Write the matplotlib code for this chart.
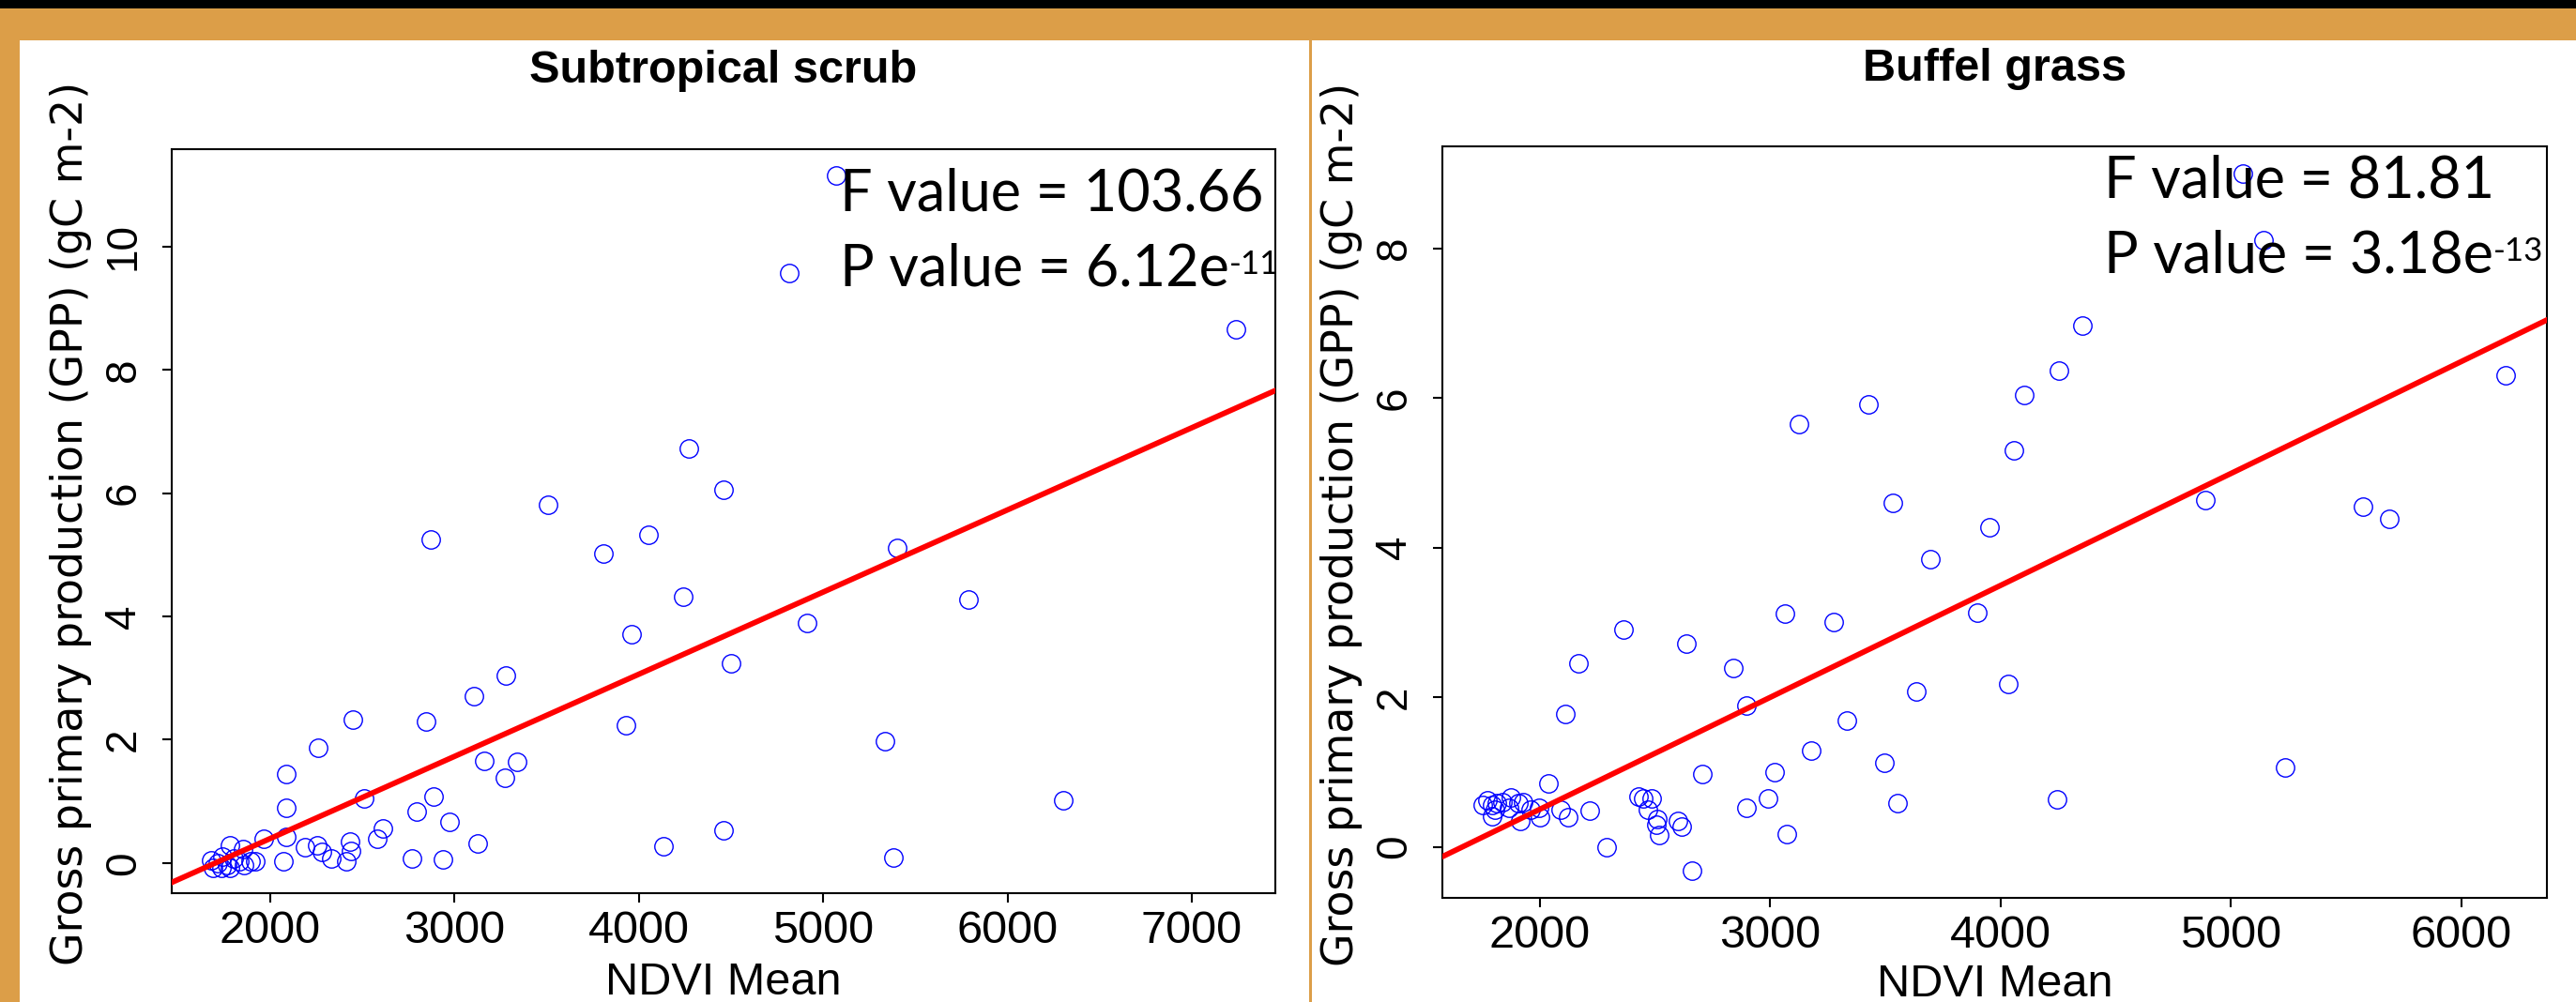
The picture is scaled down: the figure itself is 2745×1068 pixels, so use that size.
import matplotlib
matplotlib.use("Agg")
import matplotlib.pyplot as plt
from matplotlib.patches import Rectangle

# Subtropical scrub: NDVI mean vs GPP
scrub_ndvi = [5070, 4815, 7240, 4270, 4460, 3505, 2872, 3808, 4050, 5400,
              4242, 5790, 4913, 3959, 4498, 3279, 3105, 2450, 2848, 3932,
              5333, 2261, 3160, 3341, 3271, 2087, 2886, 2512, 6301, 2087,
              2794, 2973, 2613, 4457, 2580, 3128, 4132, 1964, 2087, 2073,
              2188, 2253, 2282, 2333, 2432, 2440, 2411, 2770, 2935, 5379,
              1783, 1852, 1894, 1920, 1681, 1715, 1741, 1689, 1766, 1800,
              1831, 1860, 1783, 1735]
scrub_gpp = [11.15, 9.57, 8.66, 6.73, 6.06, 5.81, 5.25, 5.02, 5.32, 5.11,
             4.32, 4.27, 3.90, 3.71, 3.24, 3.04, 2.71, 2.32, 2.29, 2.23,
             1.97, 1.87, 1.65, 1.64, 1.38, 1.45, 1.08, 1.04, 1.02, 0.89,
             0.83, 0.66, 0.56, 0.53, 0.39, 0.32, 0.27, 0.39, 0.43, 0.02,
             0.25, 0.28, 0.18, 0.07, 0.35, 0.20, 0.02, 0.08, 0.06, 0.09,
             0.28, 0.23, 0.03, 0.03, 0.05, 0.00, 0.10, -0.08, -0.03, 0.07,
             0.03, -0.03, -0.08, -0.08]
scrub_fit = (-2.27, 0.001333)   # intercept, slope
scrub_stats = ("103.66", "6.12", "-11")

# Buffel grass
buffel_ndvi = [5050, 5142, 4355, 4255, 4103, 3426, 3124, 4060, 6191, 3532,
               4890, 5571, 5688, 3954, 3695, 3064, 3277, 3901, 2365, 2635,
               2168, 2839, 4035, 3635, 2896, 2111, 3333, 3177, 3496, 5234,
               2705, 3021, 2037, 4244, 2990, 3552, 2896, 3071, 2292, 2660,
               2216, 2125, 2091, 1996, 2000, 2430, 2450, 2485, 2471, 2512,
               2505, 2519, 2600, 2618, 1752, 1772, 1793, 1813, 1840, 1874,
               1908, 1929, 1793, 1915, 1962, 1868, 1806]
buffel_gpp = [9.00, 8.11, 6.97, 6.36, 6.04, 5.91, 5.65, 5.30, 6.30, 4.60,
              4.63, 4.55, 4.39, 4.27, 3.85, 3.12, 3.01, 3.13, 2.91, 2.72,
              2.45, 2.39, 2.18, 2.08, 1.89, 1.78, 1.69, 1.29, 1.12, 1.06,
              0.97, 1.00, 0.85, 0.63, 0.65, 0.58, 0.52, 0.17, 0.00, -0.32,
              0.48, 0.40, 0.50, 0.52, 0.40, 0.67, 0.65, 0.65, 0.50, 0.37,
              0.30, 0.16, 0.35, 0.27, 0.56, 0.62, 0.56, 0.58, 0.60, 0.66,
              0.58, 0.60, 0.41, 0.35, 0.50, 0.52, 0.50]
buffel_fit = (-2.49, 0.001496)
buffel_stats = ("81.81", "3.18", "-13")

W, H = 2745, 1068
ORANGE = "#DC9E48"

def fx(px):
    return px / W

def fy(py):
    return 1 - py / H

fig = plt.figure(figsize=(W / 100, H / 100), dpi=100, facecolor=ORANGE)

# page decoration: black strip on top, white panels
fig.add_artist(Rectangle((0, fy(9)), 1, 9 / H, transform=fig.transFigure,
                         facecolor="black", edgecolor="none", zorder=0))
fig.add_artist(Rectangle((fx(21), 0), fx(1395 - 21), fy(43), transform=fig.transFigure,
                         facecolor="white", edgecolor="none", zorder=0))
fig.add_artist(Rectangle((fx(1398), 0), 1 - fx(1398), fy(43), transform=fig.transFigure,
                         facecolor="white", edgecolor="none", zorder=0))


def panel(box, xs, ys, fit, xlim, ylim, xticks, yticks, title, title_y,
          ylab_x, xlab_y, stats, stat_x, stat_y):
    l, t, r, b = box
    ax = fig.add_axes([fx(l), fy(b), fx(r - l), (b - t) / H])
    ax.set_facecolor("none")
    ax.plot(xs, ys, "o", markersize=14, markerfacecolor="none",
            markeredgecolor="blue", markeredgewidth=1.0, zorder=3)
    ax.axline((0, fit[0]), slope=fit[1], color="red", linewidth=4.2, zorder=4)
    ax.set_xlim(*xlim)
    ax.set_ylim(*ylim)
    ax.set_xticks(xticks)
    ax.set_yticks(yticks)
    ax.set_xticklabels([str(v) for v in xticks], fontsize=35, family="Liberation Sans")
    ax.set_yticklabels([str(v) for v in yticks], fontsize=33, family="Liberation Sans",
                       rotation=90, va="center")
    ax.tick_params(axis="x", length=7, width=1.5, pad=6)
    ax.tick_params(axis="y", length=7, width=1.5, pad=14)
    for s in ax.spines.values():
        s.set_linewidth(1.5)
    cx = (l + r) / 2
    fig.text(fx(cx), fy(title_y), title, ha="center", va="baseline",
             fontsize=35, fontweight="bold", family="Liberation Sans")
    fig.text(fx(ylab_x), fy((t + b) / 2 + 2), "Gross primary production (GPP) (gC m-2)",
             rotation=90, ha="center", va="center", fontsize=33, family="DejaVu Sans")
    fig.text(fx(cx), fy(xlab_y), "NDVI Mean", ha="center", va="center",
             fontsize=35, family="Liberation Sans")
    fig.text(fx(stat_x), fy(stat_y), "F value = " + stats[0], ha="left", va="center",
             fontsize=44, family="Lato")
    pt = fig.text(fx(stat_x), fy(stat_y + 80), "P value = " + stats[1] + "e",
                  ha="left", va="center", fontsize=44, family="Lato")
    ax.annotate(stats[2], xy=(1.0, 0.86), xycoords=pt, ha="left", va="top",
                fontsize=25, family="Lato", annotation_clip=False)
    return ax


panel((183, 159, 1359, 952), scrub_ndvi, scrub_gpp, scrub_fit,
      (1466, 7453), (-0.49, 11.58), [2000, 3000, 4000, 5000, 6000, 7000],
      [0, 2, 4, 6, 8, 10], "Subtropical scrub", 88, 76, 1048,
      scrub_stats, 895, 207)

panel((1537, 156, 2714, 957), buffel_ndvi, buffel_gpp, buffel_fit,
      (1578, 6371), (-0.68, 9.36), [2000, 3000, 4000, 5000, 6000],
      [0, 2, 4, 6, 8], "Buffel grass", 86, 1430, 1050,
      buffel_stats, 2242, 193)

fig.savefig("out.png", dpi=100, facecolor=ORANGE)
